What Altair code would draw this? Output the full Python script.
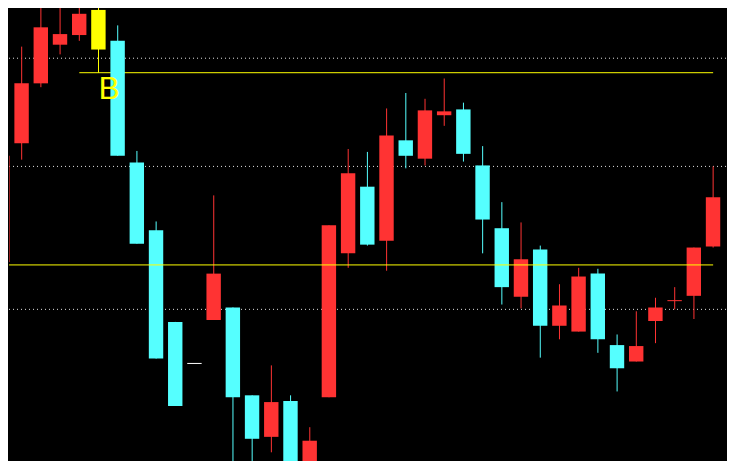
import altair as alt
import pandas as pd

# ---- candle data (index, OHLC prices, candle kind) ----
idx = list(range(-1, 37))
opens = [1.18237, 1.18360, 1.18422, 1.18462, 1.18472, 1.18498, 1.18466, 1.18340, 1.18270, 1.18175,
         1.18132, 1.18177, 1.18190, 1.18099, 1.18056, 1.18093, 1.18010, 1.18097, 1.18246, 1.18315,
         1.18259, 1.18363, 1.18344, 1.18389, 1.18395, 1.18337, 1.18272, 1.18201, 1.18250, 1.18171,
         1.18165, 1.18225, 1.18151, 1.18134, 1.18176, 1.18197, 1.18202, 1.18253]
highs = [1.18347, 1.18460, 1.18510, 1.18510, 1.18510, 1.18510, 1.18482, 1.18352, 1.18279, 1.18175,
         1.18132, 1.18306, 1.18190, 1.18099, 1.18130, 1.18099, 1.18066, 1.18275, 1.18354, 1.18351,
         1.18396, 1.18412, 1.18406, 1.18427, 1.18402, 1.18357, 1.18299, 1.18278, 1.18254, 1.18214,
         1.18231, 1.18230, 1.18162, 1.18186, 1.18200, 1.18211, 1.18252, 1.18336]
lows = [1.18237, 1.18343, 1.18418, 1.18452, 1.18466, 1.18433, 1.18347, 1.18256, 1.18137, 1.18088,
        1.18132, 1.18177, 1.18010, 1.18010, 1.18040, 1.18010, 1.18010, 1.18097, 1.18231, 1.18254,
        1.18228, 1.18334, 1.18337, 1.18378, 1.18341, 1.18246, 1.18193, 1.18189, 1.18138, 1.18157,
        1.18165, 1.18143, 1.18103, 1.18134, 1.18153, 1.18188, 1.18178, 1.18252]
closes = [1.18347, 1.18422, 1.18480, 1.18473, 1.18494, 1.18457, 1.18347, 1.18256, 1.18137, 1.18088,
          1.18132, 1.18225, 1.18097, 1.18054, 1.18092, 1.18010, 1.18052, 1.18275, 1.18329, 1.18255,
          1.18368, 1.18347, 1.18394, 1.18393, 1.18349, 1.18281, 1.18211, 1.18240, 1.18171, 1.18192,
          1.18222, 1.18157, 1.18127, 1.18150, 1.18190, 1.18197, 1.18252, 1.18304]
kinds = ["up", "up", "up", "up", "up", "signal", "down", "down", "down", "down",
         "doji", "up", "down", "down", "up", "down", "up", "up", "up", "down",
         "up", "down", "up", "up", "down", "down", "down", "up", "down", "up",
         "up", "down", "down", "up", "up", "up", "up", "up"]

# ---- horizontal levels ----
dotted_levels = [1.18448, 1.18336, 1.18188]
trend_prices = [1.18433, 1.18234]
trend_start = [3, -1]
trend_end = [36, 36]
label_text = ["B"]
label_i = [4]
label_price = [1.18406]

candles = pd.DataFrame({"i": idx, "open": opens, "high": highs, "low": lows,
                        "close": closes, "kind": kinds})
dotted = pd.DataFrame({"price": dotted_levels})
trends = pd.DataFrame({"price": trend_prices, "start": trend_start, "end": trend_end})
labels = pd.DataFrame({"text": label_text, "i": label_i, "price": label_price})

XD = [-0.66, 36.67]
YD = [1.18031, 1.18500]
xs = alt.Scale(domain=XD, nice=False, zero=False)
ys = alt.Scale(domain=YD, nice=False, zero=False)
color = alt.Color("kind:N", legend=None,
                  scale=alt.Scale(domain=["up", "down", "signal", "doji"],
                                  range=["#FF3333", "#55FFFF", "#FFFF00", "#FFFFFF"]))

base = alt.Chart(candles).transform_calculate(
    xl="datum.i - 0.38", xr="datum.i + 0.37")

grid = alt.Chart(dotted).mark_rule(color="#E0E0E0", strokeWidth=1, strokeDash=[1, 3]).encode(
    y=alt.Y("price:Q", scale=ys, axis=None))

top_trend = alt.Chart(trends).transform_filter("datum.start > 0").mark_rule(
    color="#FFFF00", strokeWidth=1, clip=True).encode(
    x=alt.X("start:Q", scale=xs, axis=None), x2="end:Q",
    y=alt.Y("price:Q", scale=ys, axis=None))

wicks = base.mark_rule(strokeWidth=1, clip=True).encode(
    x=alt.X("i:Q", scale=xs, axis=None),
    y=alt.Y("high:Q", scale=ys, axis=None), y2="low:Q",
    color=color).transform_filter("datum.open != datum.close")

bodies = base.mark_rect(clip=True).encode(
    x=alt.X("xl:Q", scale=xs, axis=None), x2="xr:Q",
    y=alt.Y("open:Q", scale=ys, axis=None), y2="close:Q",
    color=color)

dojis = base.transform_filter("datum.open == datum.close").mark_rule(
    strokeWidth=1, clip=True).encode(
    x=alt.X("xl:Q", scale=xs, axis=None), x2="xr:Q",
    y=alt.Y("open:Q", scale=ys, axis=None),
    color=color)

doji_wicks = base.transform_filter("datum.open == datum.close && datum.high != datum.low").mark_rule(
    strokeWidth=1, clip=True).encode(
    x=alt.X("i:Q", scale=xs, axis=None),
    y=alt.Y("high:Q", scale=ys, axis=None), y2="low:Q",
    color=color)

main_trend = alt.Chart(trends).transform_filter("datum.start < 0").mark_rule(
    color="#FFFF00", strokeWidth=1, clip=True).encode(
    x=alt.X("start:Q", scale=xs, axis=None), x2="end:Q",
    y=alt.Y("price:Q", scale=ys, axis=None))

text = alt.Chart(labels).mark_text(
    color="#FFFF00", fontSize=32, font="Liberation Sans", align="left",
    baseline="alphabetic").encode(
    x=alt.X("i:Q", scale=xs, axis=None),
    y=alt.Y("price:Q", scale=ys, axis=None),
    text="text:N")

chart = alt.layer(grid, top_trend, wicks, doji_wicks, bodies, dojis, main_trend, text).properties(
    width=719, height=453,
    autosize=alt.AutoSizeParams(type="fit", contains="padding"),
    padding=0, background="#000000"
).configure_view(stroke=None)

chart.save("out.html", embed_options={"renderer": "svg", "actions": False})
